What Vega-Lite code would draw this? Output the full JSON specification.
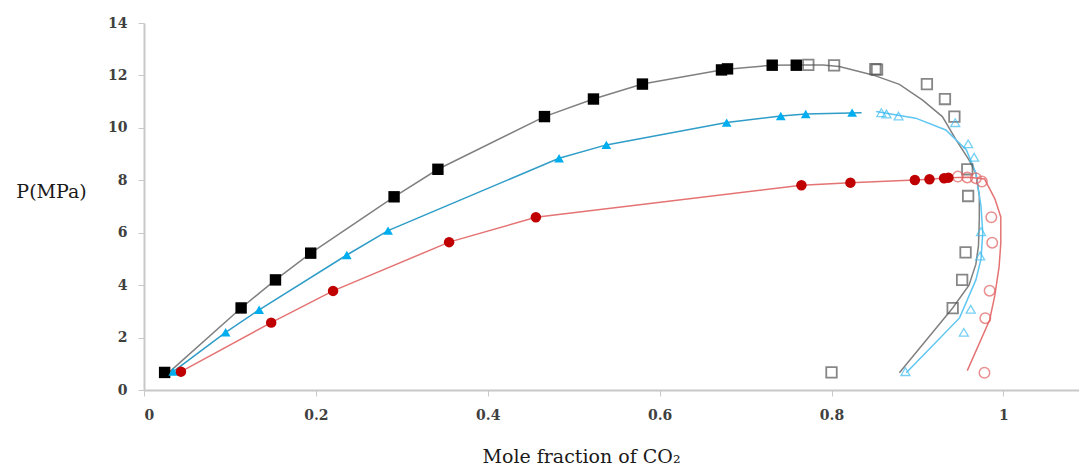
{
  "$schema": "https://vega.github.io/schema/vega-lite/v6.json",
  "width": 935,
  "height": 367,
  "autosize": {"type": "none"},
  "padding": {"left": 144, "top": 23, "right": 0, "bottom": 76},
  "background": "white",
  "config": {
    "view": {"stroke": null},
    "axis": {
      "grid": false,
      "domainColor": "#c8c8c8",
      "domainWidth": 2,
      "tickColor": "#c8c8c8",
      "tickSize": 6,
      "labelFont": "DejaVu Serif",
      "labelFontWeight": "bold",
      "labelFontSize": 14,
      "labelColor": "#404040",
      "titleFont": "DejaVu Serif",
      "titleFontWeight": "normal",
      "titleColor": "#1a1a1a"
    }
  },
  "datasets": {
    "lines": [
      {"s": "black", "i": 0, "x": 0.03, "y": 0.70},
      {"s": "black", "i": 1, "x": 0.113, "y": 3.13},
      {"s": "black", "i": 2, "x": 0.153, "y": 4.20},
      {"s": "black", "i": 3, "x": 0.194, "y": 5.22},
      {"s": "black", "i": 4, "x": 0.291, "y": 7.37},
      {"s": "black", "i": 5, "x": 0.342, "y": 8.42},
      {"s": "black", "i": 6, "x": 0.466, "y": 10.43},
      {"s": "black", "i": 7, "x": 0.523, "y": 11.10},
      {"s": "black", "i": 8, "x": 0.580, "y": 11.67},
      {"s": "black", "i": 9, "x": 0.675, "y": 12.23},
      {"s": "black", "i": 10, "x": 0.731, "y": 12.39},
      {"s": "black", "i": 11, "x": 0.759, "y": 12.40},
      {"s": "black", "i": 12, "x": 0.790, "y": 12.40},
      {"s": "black", "i": 13, "x": 0.809, "y": 12.34},
      {"s": "black", "i": 14, "x": 0.848, "y": 12.02},
      {"s": "black", "i": 15, "x": 0.879, "y": 11.66},
      {"s": "black", "i": 16, "x": 0.906, "y": 11.06},
      {"s": "black", "i": 17, "x": 0.929, "y": 10.43},
      {"s": "black", "i": 18, "x": 0.945, "y": 9.54},
      {"s": "black", "i": 19, "x": 0.960, "y": 8.78},
      {"s": "black", "i": 20, "x": 0.968, "y": 8.27},
      {"s": "black", "i": 21, "x": 0.972, "y": 7.40},
      {"s": "black", "i": 22, "x": 0.972, "y": 6.49},
      {"s": "black", "i": 23, "x": 0.971, "y": 5.50},
      {"s": "black", "i": 24, "x": 0.968, "y": 4.80},
      {"s": "black", "i": 25, "x": 0.960, "y": 4.00},
      {"s": "black", "i": 26, "x": 0.941, "y": 3.13},
      {"s": "black", "i": 27, "x": 0.879, "y": 0.66},
      {"s": "blueL", "i": 0, "x": 0.034, "y": 0.70},
      {"s": "blueL", "i": 1, "x": 0.095, "y": 2.20},
      {"s": "blueL", "i": 2, "x": 0.134, "y": 3.06},
      {"s": "blueL", "i": 3, "x": 0.236, "y": 5.15},
      {"s": "blueL", "i": 4, "x": 0.284, "y": 6.08},
      {"s": "blueL", "i": 5, "x": 0.483, "y": 8.84},
      {"s": "blueL", "i": 6, "x": 0.538, "y": 9.35},
      {"s": "blueL", "i": 7, "x": 0.678, "y": 10.20},
      {"s": "blueL", "i": 8, "x": 0.741, "y": 10.45},
      {"s": "blueL", "i": 9, "x": 0.770, "y": 10.53},
      {"s": "blueL", "i": 10, "x": 0.835, "y": 10.58},
      {"s": "blueV", "i": 0, "x": 0.852, "y": 10.62},
      {"s": "blueV", "i": 1, "x": 0.898, "y": 10.37},
      {"s": "blueV", "i": 2, "x": 0.933, "y": 9.92},
      {"s": "blueV", "i": 3, "x": 0.957, "y": 9.16},
      {"s": "blueV", "i": 4, "x": 0.968, "y": 8.27},
      {"s": "blueV", "i": 5, "x": 0.974, "y": 7.00},
      {"s": "blueV", "i": 6, "x": 0.976, "y": 6.00},
      {"s": "blueV", "i": 7, "x": 0.974, "y": 5.00},
      {"s": "blueV", "i": 8, "x": 0.968, "y": 4.20},
      {"s": "blueV", "i": 9, "x": 0.949, "y": 2.75},
      {"s": "blueV", "i": 10, "x": 0.887, "y": 0.66},
      {"s": "red", "i": 0, "x": 0.043, "y": 0.70},
      {"s": "red", "i": 1, "x": 0.148, "y": 2.57},
      {"s": "red", "i": 2, "x": 0.220, "y": 3.78},
      {"s": "red", "i": 3, "x": 0.355, "y": 5.64},
      {"s": "red", "i": 4, "x": 0.456, "y": 6.59},
      {"s": "red", "i": 5, "x": 0.765, "y": 7.81},
      {"s": "red", "i": 6, "x": 0.822, "y": 7.91},
      {"s": "red", "i": 7, "x": 0.897, "y": 8.01},
      {"s": "red", "i": 8, "x": 0.914, "y": 8.04},
      {"s": "red", "i": 9, "x": 0.936, "y": 8.10},
      {"s": "red", "i": 10, "x": 0.960, "y": 8.12},
      {"s": "red", "i": 11, "x": 0.978, "y": 8.05},
      {"s": "red", "i": 12, "x": 0.990, "y": 7.30},
      {"s": "red", "i": 13, "x": 0.997, "y": 6.60},
      {"s": "red", "i": 14, "x": 0.997, "y": 5.60},
      {"s": "red", "i": 15, "x": 0.995, "y": 4.70},
      {"s": "red", "i": 16, "x": 0.990, "y": 3.60},
      {"s": "red", "i": 17, "x": 0.984, "y": 2.67},
      {"s": "red", "i": 18, "x": 0.958, "y": 0.74}
    ],
    "points": [
      {"t": "bsq", "x": 0.024, "y": 0.67},
      {"t": "bsq", "x": 0.113, "y": 3.13},
      {"t": "bsq", "x": 0.153, "y": 4.20},
      {"t": "bsq", "x": 0.194, "y": 5.22},
      {"t": "bsq", "x": 0.291, "y": 7.37},
      {"t": "bsq", "x": 0.342, "y": 8.42},
      {"t": "bsq", "x": 0.466, "y": 10.43},
      {"t": "bsq", "x": 0.523, "y": 11.10},
      {"t": "bsq", "x": 0.580, "y": 11.67},
      {"t": "bsq", "x": 0.672, "y": 12.21},
      {"t": "bsq", "x": 0.679, "y": 12.25},
      {"t": "bsq", "x": 0.731, "y": 12.39},
      {"t": "bsq", "x": 0.759, "y": 12.39},
      {"t": "bsqo", "x": 0.773, "y": 12.40},
      {"t": "bsqo", "x": 0.803, "y": 12.38},
      {"t": "bsqo", "x": 0.851, "y": 12.24},
      {"t": "bsqo", "x": 0.853, "y": 12.22},
      {"t": "bsqo", "x": 0.911, "y": 11.67},
      {"t": "bsqo", "x": 0.932, "y": 11.10},
      {"t": "bsqo", "x": 0.943, "y": 10.43},
      {"t": "bsqo", "x": 0.958, "y": 8.42},
      {"t": "bsqo", "x": 0.959, "y": 7.40},
      {"t": "bsqo", "x": 0.956, "y": 5.25},
      {"t": "bsqo", "x": 0.952, "y": 4.20},
      {"t": "bsqo", "x": 0.941, "y": 3.12},
      {"t": "bsqo", "x": 0.800, "y": 0.67},
      {"t": "btri", "x": 0.034, "y": 0.70},
      {"t": "btri", "x": 0.095, "y": 2.20},
      {"t": "btri", "x": 0.134, "y": 3.06},
      {"t": "btri", "x": 0.236, "y": 5.15},
      {"t": "btri", "x": 0.284, "y": 6.08},
      {"t": "btri", "x": 0.483, "y": 8.84},
      {"t": "btri", "x": 0.538, "y": 9.35},
      {"t": "btri", "x": 0.678, "y": 10.20},
      {"t": "btri", "x": 0.741, "y": 10.45},
      {"t": "btri", "x": 0.770, "y": 10.53},
      {"t": "btri", "x": 0.824, "y": 10.58},
      {"t": "btrio", "x": 0.858, "y": 10.58},
      {"t": "btrio", "x": 0.864, "y": 10.53},
      {"t": "btrio", "x": 0.878, "y": 10.45},
      {"t": "btrio", "x": 0.944, "y": 10.20},
      {"t": "btrio", "x": 0.959, "y": 9.39},
      {"t": "btrio", "x": 0.966, "y": 8.88},
      {"t": "btrio", "x": 0.974, "y": 6.04},
      {"t": "btrio", "x": 0.973, "y": 5.11},
      {"t": "btrio", "x": 0.962, "y": 3.08},
      {"t": "btrio", "x": 0.954, "y": 2.20},
      {"t": "btrio", "x": 0.886, "y": 0.70},
      {"t": "rc", "x": 0.043, "y": 0.70},
      {"t": "rc", "x": 0.148, "y": 2.57},
      {"t": "rc", "x": 0.220, "y": 3.78},
      {"t": "rc", "x": 0.355, "y": 5.64},
      {"t": "rc", "x": 0.456, "y": 6.59},
      {"t": "rc", "x": 0.765, "y": 7.81},
      {"t": "rc", "x": 0.822, "y": 7.91},
      {"t": "rc", "x": 0.897, "y": 8.01},
      {"t": "rc", "x": 0.914, "y": 8.04},
      {"t": "rc", "x": 0.931, "y": 8.08},
      {"t": "rc", "x": 0.936, "y": 8.10},
      {"t": "rco", "x": 0.947, "y": 8.14},
      {"t": "rco", "x": 0.958, "y": 8.11},
      {"t": "rco", "x": 0.968, "y": 8.08},
      {"t": "rco", "x": 0.975, "y": 7.95},
      {"t": "rco", "x": 0.986, "y": 6.59},
      {"t": "rco", "x": 0.987, "y": 5.62},
      {"t": "rco", "x": 0.984, "y": 3.79},
      {"t": "rco", "x": 0.979, "y": 2.74},
      {"t": "rco", "x": 0.978, "y": 0.66}
    ]
  },
  "encoding": {
    "x": {
      "field": "x",
      "type": "quantitative",
      "scale": {"domain": [0, 1.088], "nice": false, "zero": false},
      "axis": {
        "values": [0, 0.2, 0.4, 0.6, 0.8, 1],
        "format": "~g",
        "labelPadding": 12,
        "title": "Mole fraction of CO₂",
        "titleFontSize": 19,
        "titleX": 437,
        "titleY": 66,
        "titleAlign": "center",
        "titleBaseline": "middle"
      }
    },
    "y": {
      "field": "y",
      "type": "quantitative",
      "scale": {"domain": [0, 14], "nice": false},
      "axis": {
        "values": [0, 2, 4, 6, 8, 10, 12, 14],
        "labelPadding": 11,
        "title": "P(MPa)",
        "titleFontSize": 19,
        "titleAngle": 0,
        "titleX": -93,
        "titleY": 168,
        "titleAlign": "center",
        "titleBaseline": "middle"
      }
    }
  },
  "layer": [
    {
      "data": {"values": [{"y": 14}]},
      "mark": {"type": "rule", "color": "#8a9fc8", "strokeWidth": 1.5},
      "encoding": {"x": {"datum": 0}, "x2": {"datum": 1.088}, "y": {"field": "y", "type": "quantitative"}}
    },
    {
      "data": {"name": "lines"},
      "mark": {"type": "line", "strokeWidth": 1.5},
      "encoding": {
        "detail": {"field": "s"},
        "order": {"field": "i", "type": "quantitative"},
        "color": {
          "field": "s",
          "type": "nominal",
          "legend": null,
          "scale": {"domain": ["black", "blueL", "blueV", "red"], "range": ["#808080", "#2f9dc8", "#5ec6f2", "#e57373"]}
        }
      }
    },
    {
      "data": {"name": "points"},
      "transform": [{"filter": "datum.t === 'bsqo'"}],
      "mark": {"type": "point", "shape": "square", "filled": false, "size": 110, "stroke": "#555555", "strokeWidth": 1.8}
    },
    {
      "data": {"name": "points"},
      "transform": [{"filter": "datum.t === 'btrio'"}],
      "mark": {"type": "point", "shape": "triangle-up", "filled": false, "size": 80, "stroke": "#3dbdf0", "strokeWidth": 1.3}
    },
    {
      "data": {"name": "points"},
      "transform": [{"filter": "datum.t === 'rco'"}],
      "mark": {"type": "point", "shape": "circle", "filled": false, "size": 110, "stroke": "#e06060", "strokeWidth": 1.5}
    },
    {
      "data": {"name": "points"},
      "transform": [{"filter": "datum.t === 'bsq'"}],
      "mark": {"type": "point", "shape": "square", "filled": true, "size": 130, "color": "#000000", "opacity": 1}
    },
    {
      "data": {"name": "points"},
      "transform": [{"filter": "datum.t === 'btri'"}],
      "mark": {"type": "point", "shape": "triangle-up", "filled": true, "size": 95, "color": "#00aeef", "opacity": 1}
    },
    {
      "data": {"name": "points"},
      "transform": [{"filter": "datum.t === 'rc'"}],
      "mark": {"type": "point", "shape": "circle", "filled": true, "size": 110, "color": "#c00000", "opacity": 1}
    }
  ]
}
